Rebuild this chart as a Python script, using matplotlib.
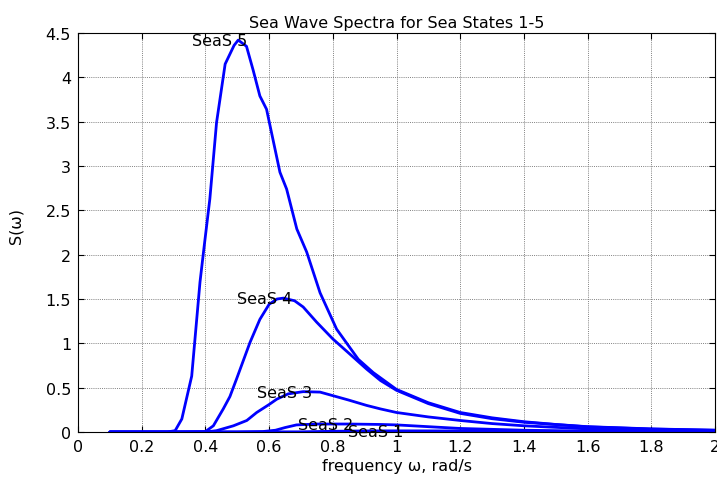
import matplotlib
matplotlib.use("Agg")
import matplotlib.pyplot as plt

# ---- data ----
w5 = [0.10, 0.20, 0.28, 0.305, 0.326, 0.357, 0.383, 0.396, 0.414, 0.435, 0.462, 0.49, 0.503,
      0.529, 0.55, 0.571, 0.592, 0.634, 0.655, 0.687, 0.718, 0.76, 0.812, 0.88, 0.927,
      1.0, 1.1, 1.2, 1.3, 1.4, 1.5, 1.6, 1.8, 2.0]
s5 = [0.0, 0.0, 0.0, 0.015, 0.147, 0.63, 1.69, 2.09, 2.63, 3.49, 4.15, 4.36, 4.42,
      4.35, 4.08, 3.79, 3.64, 2.93, 2.74, 2.29, 2.03, 1.57, 1.16, 0.82, 0.67,
      0.48, 0.33, 0.22, 0.16, 0.116, 0.085, 0.06, 0.035, 0.02]

w4 = [0.10, 0.30, 0.40, 0.425, 0.456, 0.477, 0.498, 0.54, 0.571, 0.60, 0.625, 0.645, 0.68,
      0.707, 0.749, 0.80, 0.85, 0.906, 0.95, 1.0, 1.1, 1.2, 1.3, 1.4, 1.6, 1.8, 2.0]
s4 = [0.0, 0.0, 0.005, 0.07, 0.26, 0.40, 0.60, 1.01, 1.27, 1.44, 1.50, 1.51, 1.48,
      1.41, 1.24, 1.05, 0.89, 0.71, 0.58, 0.47, 0.32, 0.21, 0.15, 0.11, 0.058, 0.033, 0.02]

w3 = [0.10, 0.40, 0.435, 0.488, 0.53, 0.561, 0.60, 0.624, 0.66, 0.707, 0.76, 0.80, 0.85,
      0.906, 0.95, 1.0, 1.1, 1.2, 1.3, 1.4, 1.6, 1.8, 2.0]
s3 = [0.0, 0.0, 0.015, 0.07, 0.13, 0.22, 0.31, 0.37, 0.43, 0.455, 0.45, 0.41, 0.36,
      0.30, 0.26, 0.22, 0.17, 0.13, 0.095, 0.07, 0.035, 0.02, 0.01]

w2 = [0.10, 0.50, 0.58, 0.62, 0.65, 0.686, 0.75, 0.85, 0.95, 1.0, 1.1, 1.2, 1.3, 1.4,
      1.6, 1.8, 2.0]
s2 = [0.0, 0.0, 0.005, 0.02, 0.05, 0.08, 0.09, 0.09, 0.085, 0.08, 0.06, 0.04, 0.03, 0.02,
      0.01, 0.006, 0.004]

w1 = [0.10, 0.70, 0.80, 0.90, 1.0, 1.2, 1.4, 1.6, 2.0]
s1 = [0.0, 0.002, 0.008, 0.012, 0.013, 0.012, 0.009, 0.006, 0.003]

label_text = ["SeaS 5", "SeaS 4", "SeaS 3", "SeaS 2", "SeaS 1"]
label_x = [0.358, 0.50, 0.563, 0.69, 0.849]
label_y = [4.42, 1.50, 0.45, 0.09, 0.0]

xticks = [0, 0.2, 0.4, 0.6, 0.8, 1.0, 1.2, 1.4, 1.6, 1.8, 2.0]
xtick_labels = ["0", "0.2", "0.4", "0.6", "0.8", "1", "1.2", "1.4", "1.6", "1.8", "2"]
yticks = [0, 0.5, 1, 1.5, 2, 2.5, 3, 3.5, 4, 4.5]
ytick_labels = ["0", "0.5", "1", "1.5", "2", "2.5", "3", "3.5", "4", "4.5"]

plt.rcParams['font.family'] = ['DejaVu Sans']
FS = 11.5

fig = plt.figure(figsize=(7.17, 4.81), dpi=100)
ax = fig.add_axes([78 / 717, 1 - 433 / 481, (715 - 78) / 717, (433 - 34) / 481])

for w, s in [(w5, s5), (w4, s4), (w3, s3), (w2, s2), (w1, s1)]:
    ax.plot(w, s, color=(0, 0, 1), lw=2.0, solid_joinstyle='round', solid_capstyle='round')

for t, x, y in zip(label_text, label_x, label_y):
    ax.text(x, y, t, ha='left', va='center', fontsize=FS, color='black')

ax.set_xlim(0, 2)
ax.set_ylim(0, 4.5)
ax.set_xticks(xticks)
ax.set_xticklabels(xtick_labels)
ax.set_yticks(yticks)
ax.set_yticklabels(ytick_labels)
ax.tick_params(direction='in', length=4, width=0.8, labelsize=FS, top=True, right=True,
               pad=5)
ax.grid(True, color='0.5', linestyle=(0, (1, 1.2)), linewidth=0.7)
ax.set_axisbelow(True)
for sp in ax.spines.values():
    sp.set_linewidth(0.8)

ax.set_title("Sea Wave Spectra for Sea States 1-5", fontsize=FS, pad=4)
ax.set_xlabel("frequency ω, rad/s", fontsize=FS, labelpad=3)
ax.set_ylabel("S(ω)", fontsize=FS)
ax.yaxis.set_label_coords(-0.085, 0.52)

fig.savefig("out.png", dpi=100)
